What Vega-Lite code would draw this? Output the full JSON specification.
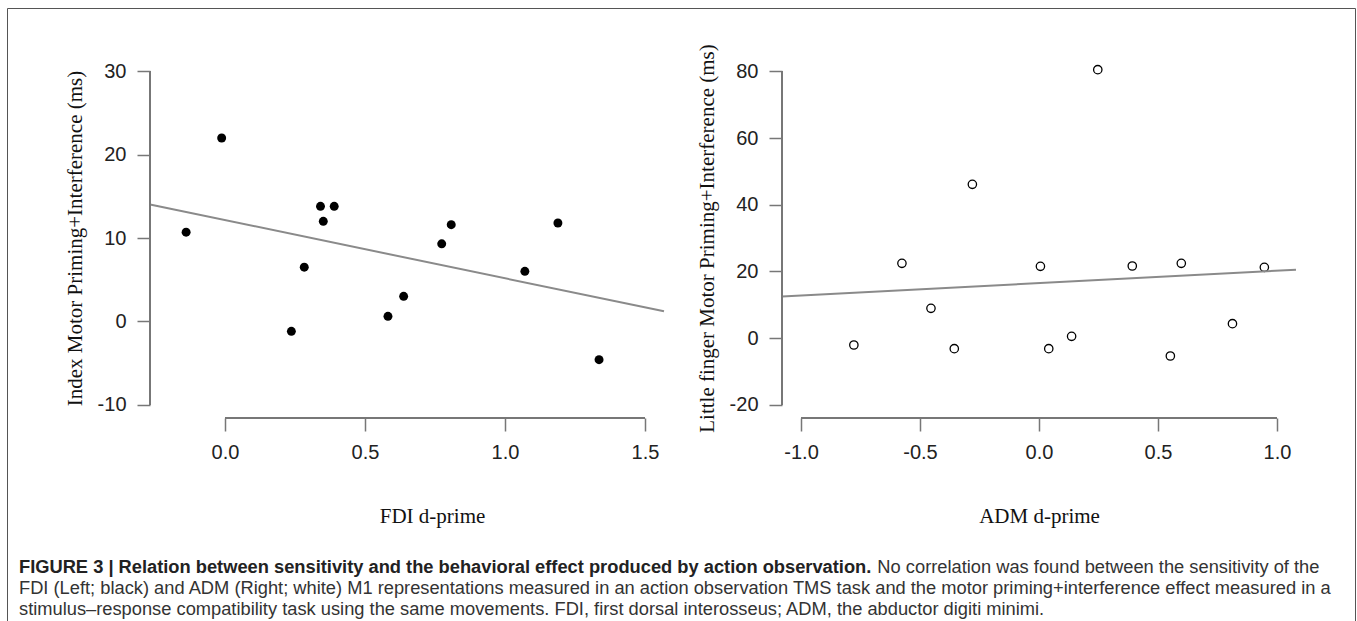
{
  "$schema": "https://vega.github.io/schema/vega-lite/v6.json",
  "width": 1348,
  "height": 614,
  "autosize": {"type": "none"},
  "padding": {"left": 7, "top": 8, "right": 2, "bottom": 0},
  "background": "white",
  "config": {
    "view": {"stroke": "#555555", "strokeWidth": 1},
    "axis": {
      "grid": false,
      "domain": false,
      "tickColor": "#777777",
      "tickWidth": 1.5,
      "tickSize": 13,
      "labelFont": "Liberation Sans",
      "labelFontSize": 20,
      "labelColor": "#222222",
      "labelPadding": 11,
      "labelFlush": false,
      "labelOverlap": false,
      "labelExpr": "replace(datum.label, '\u2212', '-')",
      "titleFont": "Liberation Serif",
      "titleFontSize": 21,
      "titleFontWeight": "normal",
      "titleColor": "#111111"
    },
    "axisX": {"titlePadding": 43},
    "axisY": {"titlePadding": 12}
  },
  "datasets": {
    "fdi": [
      {"d": -0.139, "effect": 10.7},
      {"d": -0.012, "effect": 22.0},
      {"d": 0.237, "effect": -1.2},
      {"d": 0.283, "effect": 6.5},
      {"d": 0.341, "effect": 13.8},
      {"d": 0.351, "effect": 12.0},
      {"d": 0.390, "effect": 13.8},
      {"d": 0.582, "effect": 0.6},
      {"d": 0.638, "effect": 3.0},
      {"d": 0.774, "effect": 9.3},
      {"d": 0.808, "effect": 11.6},
      {"d": 1.071, "effect": 6.0},
      {"d": 1.189, "effect": 11.8},
      {"d": 1.336, "effect": -4.6}
    ],
    "adm": [
      {"d": -0.778, "effect": -2.1},
      {"d": -0.576, "effect": 22.4},
      {"d": -0.454, "effect": 8.9},
      {"d": -0.356, "effect": -3.2},
      {"d": -0.280, "effect": 46.1},
      {"d": 0.006, "effect": 21.5},
      {"d": 0.041, "effect": -3.2},
      {"d": 0.137, "effect": 0.5},
      {"d": 0.247, "effect": 80.5},
      {"d": 0.392, "effect": 21.6},
      {"d": 0.552, "effect": -5.4},
      {"d": 0.598, "effect": 22.4},
      {"d": 0.813, "effect": 4.3},
      {"d": 0.947, "effect": 21.2}
    ]
  },
  "title": {
    "text": "FIGURE 3 | Relation between sensitivity and the behavioral effect produced by action observation.",
    "subtitle": [
      "\u200b\u00a0\u00a0\u00a0\u00a0\u00a0\u00a0\u00a0\u00a0\u00a0\u00a0\u00a0\u00a0\u00a0\u00a0\u00a0\u00a0\u00a0\u00a0\u00a0\u00a0\u00a0\u00a0\u00a0\u00a0\u00a0\u00a0\u00a0\u00a0\u00a0\u00a0\u00a0\u00a0\u00a0\u00a0\u00a0\u00a0\u00a0\u00a0\u00a0\u00a0\u00a0\u00a0\u00a0\u00a0\u00a0\u00a0\u00a0\u00a0\u00a0\u00a0\u00a0\u00a0\u00a0\u00a0\u00a0\u00a0\u00a0\u00a0\u00a0\u00a0\u00a0\u00a0\u00a0\u00a0\u00a0\u00a0\u00a0\u00a0\u00a0\u00a0\u00a0\u00a0\u00a0\u00a0\u00a0\u00a0\u00a0\u00a0\u00a0\u00a0\u00a0\u00a0\u00a0\u00a0\u00a0\u00a0\u00a0\u00a0\u00a0\u00a0\u00a0\u00a0\u00a0\u00a0\u00a0\u00a0\u00a0\u00a0\u00a0\u00a0\u00a0\u00a0\u00a0\u00a0\u00a0\u00a0\u00a0\u00a0\u00a0\u00a0\u00a0\u00a0\u00a0\u00a0\u00a0\u00a0\u00a0\u00a0\u00a0\u00a0\u00a0\u00a0\u00a0\u00a0\u00a0\u00a0\u00a0\u00a0\u00a0\u00a0\u00a0\u00a0\u00a0\u00a0\u00a0\u00a0\u00a0\u00a0\u00a0\u00a0\u00a0\u00a0\u00a0\u00a0\u00a0\u00a0\u00a0\u00a0\u00a0\u00a0\u00a0\u00a0\u00a0\u00a0\u00a0\u00a0\u00a0\u00a0\u00a0\u00a0\u00a0\u00a0\u00a0\u00a0\u00a0\u00a0\u00a0\u00a0\u00a0No correlation was found between the sensitivity of the",
      "FDI (Left; black) and ADM (Right; white) M1 representations measured in an action observation TMS task and the motor priming+interference effect measured in a",
      "stimulus–response compatibility task using the same movements. FDI, first dorsal interosseus; ADM, the abductor digiti minimi."
    ],
    "orient": "bottom",
    "anchor": "start",
    "frame": "group",
    "offset": -63,
    "dx": 12,
    "font": "Liberation Sans",
    "fontSize": 18.3,
    "fontWeight": "bold",
    "color": "#222222",
    "subtitleFont": "Liberation Sans",
    "subtitleFontSize": 18.3,
    "subtitleFontWeight": "normal",
    "subtitleColor": "#333333",
    "subtitleLineHeight": 21,
    "subtitlePadding": -18.3
  },
  "layer": [
    {
      "data": {"name": "fdi"},
      "layer": [
        {
          "mark": {"type": "circle", "size": 80, "color": "#000000", "opacity": 1},
          "encoding": {
            "x": {
              "field": "d", "type": "quantitative",
              "scale": {"domain": [-0.268, 1.568], "range": [143, 657], "nice": false, "zero": false},
              "axis": {"values": [0, 0.5, 1, 1.5], "format": ".1f", "title": "FDI d-prime", "orient": "bottom", "offset": -204, "titleX": 425}
            },
            "y": {
              "field": "effect", "type": "quantitative",
              "scale": {"domain": [-11.6, 31.6], "range": [410, 50], "nice": false, "zero": false},
              "axis": {"values": [-10, 0, 10, 20, 30], "title": "Index Motor Priming+Interference (ms)", "orient": "left", "offset": -143}
            }
          }
        },
        {
          "transform": [{"regression": "effect", "on": "d", "extent": [-0.268, 1.568]}],
          "mark": {"type": "line", "color": "#8a8a8a", "strokeWidth": 2},
          "encoding": {
            "x": {"field": "d", "type": "quantitative"},
            "y": {"field": "effect", "type": "quantitative"}
          }
        },
        {
          "mark": {"type": "rule", "color": "#777777", "strokeWidth": 1.5},
          "encoding": {"x": {"datum": 0}, "x2": {"datum": 1.5}, "y": {"datum": -11.6}}
        },
        {
          "mark": {"type": "rule", "color": "#777777", "strokeWidth": 1.5},
          "encoding": {"y": {"datum": -10}, "y2": {"datum": 30}, "x": {"datum": -0.268}}
        }
      ]
    },
    {
      "data": {"name": "adm"},
      "layer": [
        {
          "mark": {"type": "point", "size": 70, "filled": false, "color": "#000000", "strokeWidth": 1.3, "opacity": 1},
          "encoding": {
            "x": {
              "field": "d", "type": "quantitative",
              "scale": {"domain": [-1.08, 1.08], "range": [775, 1289], "nice": false, "zero": false},
              "axis": {"values": [-1, -0.5, 0, 0.5, 1], "format": ".1f", "title": "ADM d-prime", "orient": "bottom", "offset": -204}
            },
            "y": {
              "field": "effect", "type": "quantitative",
              "scale": {"domain": [-24, 84], "range": [410, 50], "nice": false, "zero": false},
              "axis": {"values": [-20, 0, 20, 40, 60, 80], "title": "Little finger Motor Priming+Interference (ms)", "orient": "left", "offset": -775}
            }
          }
        },
        {
          "transform": [{"regression": "effect", "on": "d", "extent": [-1.08, 1.08]}],
          "mark": {"type": "line", "color": "#8a8a8a", "strokeWidth": 2},
          "encoding": {
            "x": {"field": "d", "type": "quantitative"},
            "y": {"field": "effect", "type": "quantitative"}
          }
        },
        {
          "mark": {"type": "rule", "color": "#777777", "strokeWidth": 1.5},
          "encoding": {"x": {"datum": -1}, "x2": {"datum": 1}, "y": {"datum": -24}}
        },
        {
          "mark": {"type": "rule", "color": "#777777", "strokeWidth": 1.5},
          "encoding": {"y": {"datum": -20}, "y2": {"datum": 80}, "x": {"datum": -1.08}}
        }
      ]
    }
  ],
  "resolve": {
    "scale": {"x": "independent", "y": "independent"},
    "axis": {"x": "independent", "y": "independent"}
  }
}
